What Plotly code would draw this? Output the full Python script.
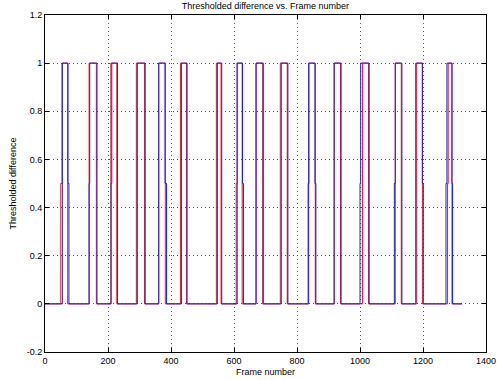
import plotly.graph_objects as go

# Pulse data: (rise frame, fall frame, half-level start before rise, half-level end after fall)
red_on = [54, 140, 209, 290, 361, 430, 544, 610, 670, 747, 838, 918, 1008, 1112, 1180, 1280]
red_off = [72, 163, 228, 316, 382, 449, 559, 626, 691, 769, 858, 938, 1027, 1131, 1198, 1292]
red_half_on = [50, None, None, None, None, None, None, 607, None, None, 835, None, None, None, None, 1278]
red_half_off = [None] * 16

blue_on = [55, 142, 212, 293, 361, 433, 547, 610, 670, 750, 837, 918, 1002, 1112, 1177, 1276]
blue_off = [73, 165, 230, 318, 381, 451, 561, 627, 693, 771, 857, 940, 1029, 1133, 1198, 1292]
blue_half_on = [None, 140, 210, None, None, None, None, None, None, None, None, None, 1000, 1109, None, 1273]
blue_half_off = [76, None, None, None, 386, None, None, 630, None, None, 860, None, None, None, 1201, 1294]

first_frame = 0
last_frame = 1324

x_ticks = [0, 200, 400, 600, 800, 1000, 1200, 1400]
y_ticks = [-0.2, 0, 0.2, 0.4, 0.6, 0.8, 1, 1.2]


def build(on, off, hon, hoff):
    xs, ys = [first_frame], [0]
    for a, b, ha, hb in zip(on, off, hon, hoff):
        if ha is not None:
            xs += [ha, ha, a, a]
            ys += [0, 0.5, 0.5, 1]
        else:
            xs += [a, a]
            ys += [0, 1]
        if hb is not None:
            xs += [b, b, hb, hb]
            ys += [1, 0.5, 0.5, 0]
        else:
            xs += [b, b]
            ys += [1, 0]
    xs.append(last_frame)
    ys.append(0)
    return xs, ys


rx, ry = build(red_on, red_off, red_half_on, red_half_off)
bx, by = build(blue_on, blue_off, blue_half_on, blue_half_off)

fig = go.Figure()
fig.add_trace(go.Scatter(x=rx, y=ry, mode="lines", line=dict(color="#e02020", width=1), showlegend=False))
fig.add_trace(go.Scatter(x=bx, y=by, mode="lines", line=dict(color="#2020d0", width=1), showlegend=False))

font_family = "Liberation Sans Narrow, Liberation Sans, Arial, sans-serif"
axis_common = dict(
    showline=True, mirror="ticks", linecolor="black", linewidth=1,
    ticks="inside", ticklen=4, tickcolor="black",
    showgrid=True, gridcolor="#555555", griddash="1px,3px", gridwidth=1,
    zeroline=False, automargin=False,
    tickfont=dict(family=font_family, size=9, color="black"),
)

fig.update_layout(
    width=497, height=380,
    margin=dict(l=45, r=11, t=15, b=28),
    paper_bgcolor="white", plot_bgcolor="white",
    font=dict(family=font_family, size=9, color="black"),
    title=dict(text="Thresholded difference vs. Frame number", x=0.534, xanchor="center",
               y=1 - 6 / 380, yanchor="middle", yref="container",
               font=dict(family=font_family, size=9, color="black")),
    xaxis=dict(range=[0, 1400], tickvals=x_ticks, ticktext=[str(v) for v in x_ticks],
               title=dict(text="Frame number", standoff=3, font=dict(size=9)), **axis_common),
    yaxis=dict(range=[-0.2, 1.2], tickvals=y_ticks, ticktext=[("%g" % v) for v in y_ticks],
               title=dict(text="Thresholded difference", standoff=8, font=dict(size=9)), **axis_common),
)

fig.write_html("out.html", config={"displayModeBar": False},
               post_script="document.body.style.margin='0px';document.body.style.overflow='hidden';")
